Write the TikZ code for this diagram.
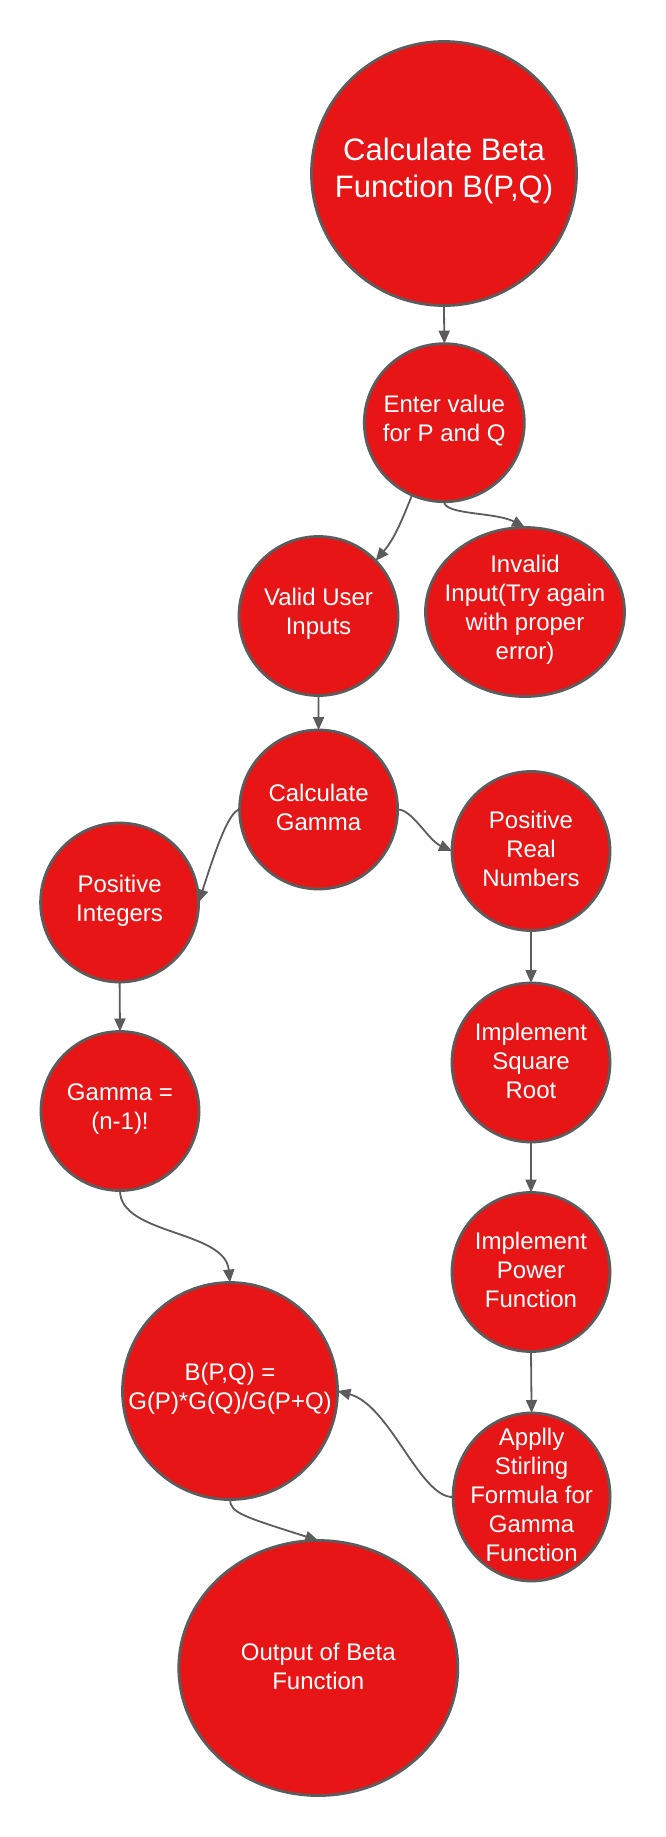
\documentclass[tikz,border=0pt]{standalone}
\usepackage{fontspec}
\setmainfont{Liberation Sans}
\usetikzlibrary{shapes.geometric,arrows.meta}
\definecolor{nodered}{RGB}{231,21,22}
\definecolor{edgegray}{RGB}{92,92,92}
\tikzset{
  bub/.style={ellipse, draw=edgegray, line width=2.8pt, fill=nodered, inner sep=0pt, outer sep=0pt},
  lab/.style={text=white, align=center, font=\fontsize{24}{29}\selectfont, inner sep=0pt, yshift=2pt},
  biglab/.style={text=white, align=center, font=\fontsize{31}{37}\selectfont, inner sep=0pt, yshift=3pt},
  conn/.style={draw=edgegray, line width=1.8pt, -{Triangle[length=13pt,width=11pt]}}
}
\begin{document}
\begin{tikzpicture}[x=1pt,y=-1pt]
\useasboundingbox[fill=white] (0,0) rectangle (665,1837);

\node[bub, minimum width=265pt, minimum height=264pt,
  label={[biglab]center:{Calculate Beta\\Function B(P,Q)}}] (title) at (444,173.5) {};
\node[bub, minimum width=160pt, minimum height=158pt,
  label={[lab]center:{Enter value\\for P and Q}}] (enter) at (444.3,422.7) {};
\node[bub, minimum width=159pt, minimum height=159pt,
  label={[lab]center:{Valid User\\Inputs}}] (valid) at (318.5,616) {};
\node[bub, minimum width=199pt, minimum height=169pt,
  label={[lab]center:{Invalid\\Input(Try again\\with proper\\error)}}] (invalid) at (525,612) {};
\node[bub, minimum width=158pt, minimum height=159pt,
  label={[lab]center:{Calculate\\Gamma}}] (gamma) at (318.6,809.5) {};
\node[bub, minimum width=158pt, minimum height=159pt,
  label={[lab]center:{Positive\\Integers}}] (posint) at (119.6,902.5) {};
\node[bub, minimum width=158pt, minimum height=159pt,
  label={[lab]center:{Positive\\Real\\Numbers}}] (posreal) at (531,851) {};
\node[bub, minimum width=158pt, minimum height=159pt,
  label={[lab]center:{Gamma =\\(n-1)!}}] (gfact) at (120,1111) {};
\node[bub, minimum width=158pt, minimum height=159pt,
  label={[lab]center:{Implement\\Square\\Root}}] (sqrt) at (531,1062.5) {};
\node[bub, minimum width=158pt, minimum height=159pt,
  label={[lab]center:{Implement\\Power\\Function}}] (power) at (531,1272) {};
\node[bub, minimum width=215pt, minimum height=217pt,
  label={[lab]center:{B(P,Q) =\\G(P)*G(Q)/G(P+Q)}}] (beta) at (230,1391) {};
\node[bub, minimum width=157pt, minimum height=168pt,
  label={[lab]center:{Applly\\Stirling\\Formula for\\Gamma\\Function}}] (stirling) at (531.6,1497) {};
\node[bub, minimum width=279pt, minimum height=255pt,
  label={[lab]center:{Output of Beta\\Function}}] (output) at (318.3,1668) {};

\draw[conn] (title.south) -- (enter.north);
\draw[conn] (enter.246) to[out=-112,in=50] (valid.44);
\draw[conn] (enter.south) .. controls (444,515) and (496,512) .. (invalid.north);
\draw[conn] (valid.south) -- (gamma.north);
\draw[conn] (gamma.west) .. controls (228,811) and (213,858) .. (posint.east);
\draw[conn] (gamma.east) .. controls (412,809) and (428,840) .. (posreal.west);
\draw[conn] (posint.south) -- (gfact.north);
\draw[conn] (posreal.south) -- (sqrt.north);
\draw[conn] (sqrt.south) -- (power.north);
\draw[conn] (power.south) -- (stirling.north);
\draw[conn] (gfact.south) .. controls (120,1235) and (225,1230) .. (beta.north);
\draw[conn] (stirling.west) .. controls (420,1498) and (390,1405) .. (beta.east);
\draw[conn] (beta.south) .. controls (230,1513) and (245,1517) .. (output.north);
\end{tikzpicture}
\end{document}
